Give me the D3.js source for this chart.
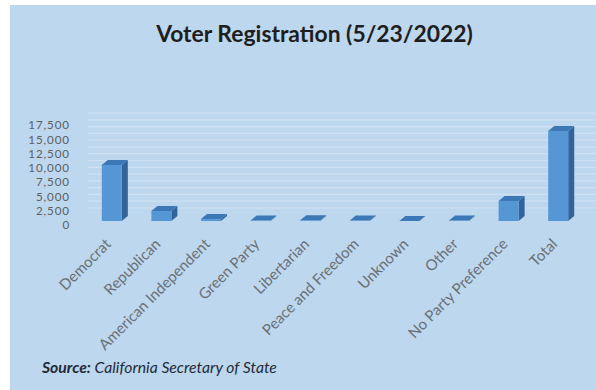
<!DOCTYPE html>
<html>
<head>
<meta charset="utf-8">
<script src="https://cdn.jsdelivr.net/npm/d3@7"></script>
<style>
  html, body { margin: 0; padding: 0; background: #ffffff; }
  svg { display: block; }
</style>
</head>
<body>
<svg id="chart" width="596" height="390"></svg>
<script>
// Registered voters by party
const categories = [
  "Democrat", "Republican", "American Independent", "Green Party", "Libertarian",
  "Peace and Freedom", "Unknown", "Other", "No Party Preference", "Total"
];
const voters = [10330, 1840, 350, 70, 130, 80, 20, 90, 3690, 16600];

// Value axis ticks and back-wall gridline values
const yTicks = [0, 2500, 5000, 7500, 10000, 12500, 15000, 17500];
const wallLines = [0, 1250, 2500, 3750, 5000, 6250, 7500, 8750, 10000, 11250, 12500, 13750, 15000, 16250, 17500];

const titleText = "Voter Registration (5/23/2022)";
const sourceLabel = "Source:";
const sourceText = " California Secretary of State";

const FONT = "Lato, 'Open Sans', 'Noto Sans', sans-serif";
const svg = d3.select("#chart");

// Shrink or grow a text element's font so its length matches a target width
function fitWidth(sel, target) {
  const node = sel.node();
  const fs = parseFloat(sel.attr("font-size"));
  const len = node.getComputedTextLength();
  sel.attr("font-size", (fs * target / len).toFixed(2));
}

// Chart panel
svg.append("rect")
  .attr("x", 10).attr("y", 5)
  .attr("width", 586).attr("height", 385)
  .attr("fill", "#bdd7ee");

// Scales: bar geometry, value labels on the side wall, category centres
const baseY = 221;
const yBar = d3.scaleLinear().domain([0, 17500]).range([baseY, baseY - 95]);
const yLab = d3.scaleLinear().domain([0, 17500]).range([225, 125]);
const x = d3.scalePoint().domain(categories).range([87, 583]).padding(0.5);

// 3D extrusion of the columns
const barW = 20, depthX = 6, depthY = 5;
const wallShift = 13;

// Back-wall gridlines
svg.append("g").selectAll("line")
  .data(wallLines)
  .join("line")
  .attr("x1", 88).attr("x2", 596)
  .attr("y1", d => yBar(d) - wallShift)
  .attr("y2", d => yBar(d) - wallShift)
  .attr("stroke", "#cfe1f3")
  .attr("stroke-width", 1.2);

// Value axis labels (small, slightly tracked so the stack stays compact)
const yAxis = d3.axisLeft(yLab)
  .tickValues(yTicks)
  .tickFormat(d3.format(","))
  .tickSize(0)
  .tickPadding(0);
const yg = svg.append("g")
  .attr("transform", "translate(70,0)")
  .call(yAxis);
yg.select(".domain").remove();
yg.selectAll("text")
  .attr("font-family", FONT)
  .attr("font-size", 11.6)
  .attr("letter-spacing", 0.9)
  .attr("fill", "#5f5f5f");

// Columns
const bars = svg.append("g").selectAll("g")
  .data(categories.map((c, i) => ({ c, v: voters[i] })))
  .join("g");

bars.append("polygon") // right side
  .attr("points", d => {
    const x0 = x(d.c) - barW / 2, yt = yBar(d.v);
    return [[x0 + barW, yt], [x0 + barW + depthX, yt - depthY],
            [x0 + barW + depthX, baseY - depthY], [x0 + barW, baseY]].join(" ");
  })
  .attr("fill", "#30649a");

bars.append("polygon") // top
  .attr("points", d => {
    const x0 = x(d.c) - barW / 2, yt = yBar(d.v);
    return [[x0, yt], [x0 + barW, yt], [x0 + barW + depthX, yt - depthY],
            [x0 + depthX, yt - depthY]].join(" ");
  })
  .attr("fill", "#3d78b6");

bars.append("rect") // front
  .attr("x", d => x(d.c) - barW / 2)
  .attr("y", d => yBar(d.v))
  .attr("width", barW)
  .attr("height", d => baseY - yBar(d.v))
  .attr("fill", "#5597d5");

// Category labels, rotated
const xl = svg.append("g").selectAll("text")
  .data(categories)
  .join("text")
  .attr("transform", d => `translate(${x(d)},245) rotate(-45)`)
  .attr("text-anchor", "end")
  .attr("font-family", FONT)
  .attr("font-size", 15)
  .attr("fill", "#6a6f75")
  .text(d => d);
{
  const longest = xl.filter(d => d === "American Independent");
  fitWidth(longest, 150);
  xl.attr("font-size", longest.attr("font-size"));
}

// Title
const title = svg.append("text")
  .attr("x", 314.5).attr("y", 42)
  .attr("text-anchor", "middle")
  .attr("font-family", FONT)
  .attr("font-weight", "bold")
  .attr("font-size", 21)
  .attr("fill", "#1e1e1e")
  .text(titleText);
fitWidth(title, 317);

// Source note
const src = svg.append("text")
  .attr("x", 42).attr("y", 373)
  .attr("font-family", FONT)
  .attr("font-style", "italic")
  .attr("font-size", 14)
  .attr("fill", "#1f2a38");
src.append("tspan").attr("font-weight", "bold").text(sourceLabel);
src.append("tspan").text(sourceText);
fitWidth(src, 235);
</script>
</body>
</html>
